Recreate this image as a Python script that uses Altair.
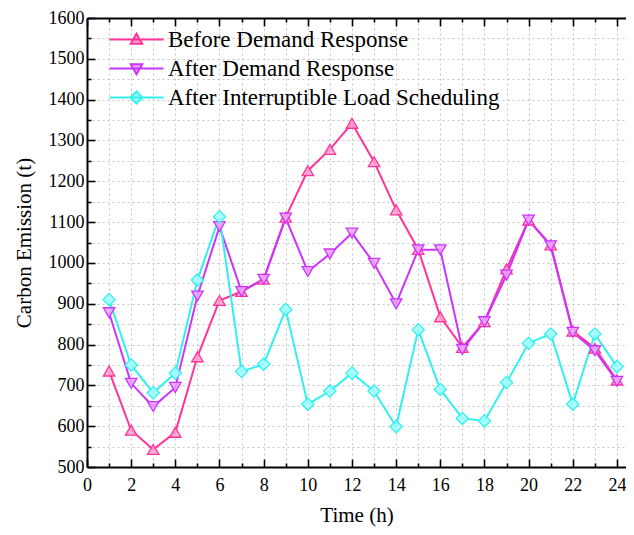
import altair as alt
import pandas as pd

# ---------------- data ----------------
hours = list(range(1, 25))
series_names = [
    "Before Demand Response",
    "After Demand Response",
    "After Interruptible Load Scheduling",
]
before_dr = [735, 590, 543, 585, 770, 908, 930, 960, 1112, 1226, 1278, 1342,
             1248, 1130, 1033, 868, 793, 856, 985, 1105, 1044, 833, 791, 713]
after_dr = [878, 705, 648, 695, 919, 1089, 930, 960, 1110, 979, 1022, 1073,
            999, 900, 1032, 1032, 788, 856, 970, 1105, 1042, 830, 785, 710]
after_ils = [910, 750, 682, 730, 958, 1113, 734, 752, 886, 654, 686, 730,
             686, 599, 836, 690, 619, 613, 707, 803, 826, 654, 826, 746]

x_major = list(range(0, 25, 2))
x_minor = list(range(1, 25, 2))
x_all = list(range(0, 25))
y_major = list(range(500, 1601, 100))
y_minor = list(range(550, 1600, 100))
y_all = list(range(500, 1601, 50))

# ---------------- styling ----------------
line_colors = ["#FF3399", "#CC33FF", "#33F0F0"]
fill_colors = ["#FFA3D1", "#E9A3FF", "#A3FFFF"]
marker_shapes = ["triangle-up", "triangle-down", "diamond"]
legend_paths = [
    "M-4.5,0L4.5,0M0,-0.95L0.95,0.7L-0.95,0.7Z",
    "M-4.5,0L4.5,0M0,0.95L0.95,-0.7L-0.95,-0.7Z",
    "M-4.5,0L4.5,0M0,-1L1,0L0,1L-1,0Z",
]

rows = []
for name, vals in zip(series_names, [before_dr, after_dr, after_ils]):
    for h, v in zip(hours, vals):
        rows.append({"hour": h, "emission": v, "series": name})
df = pd.DataFrame(rows)

W, H = 539, 449
FONT = "Liberation Serif"

xs = alt.Scale(domain=[0, 24.41], nice=False, zero=False)
ys = alt.Scale(domain=[500, 1600], nice=False, zero=False)
stroke_scale = alt.Scale(domain=series_names, range=line_colors)
fill_scale = alt.Scale(domain=series_names, range=fill_colors)
shape_scale = alt.Scale(domain=series_names, range=legend_paths)

# label / grid axes
x_axis_main = alt.Axis(
    orient="bottom", values=x_all,
    labelExpr="datum.value % 2 == 0 ? datum.label : ''",
    grid=True, gridColor="#c4c4c4", gridDash=[2, 3], gridWidth=1,
    ticks=False, tickSize=0, domain=False,
    labelFont=FONT, labelFontSize=18, labelColor="black", labelPadding=9,
    labelFlush=False, labelOverlap=False,
    title="Time (h)", titleFont=FONT, titleFontSize=21, titleFontWeight="normal",
    titleColor="black", titlePadding=10,
)
y_axis_main = alt.Axis(
    orient="left", values=y_all, format="d",
    labelExpr="datum.value % 100 == 0 ? datum.label : ''",
    grid=True, gridColor="#c4c4c4", gridDash=[2, 3], gridWidth=1,
    ticks=False, tickSize=0, domain=False,
    labelFont=FONT, labelFontSize=18, labelColor="black", labelPadding=3,
    labelFlush=False, labelOverlap=False,
    title="Carbon Emission (t)", titleFont=FONT, titleFontSize=21,
    titleFontWeight="normal", titleColor="black", titlePadding=14,
)


def frame_axis(orient, offset, values, size, with_domain):
    kw = dict(
        orient=orient, offset=offset, values=values, labels=False, grid=False,
        ticks=True, tickSize=size, tickColor="black", tickWidth=1.6,
        title=None, domain=with_domain,
    )
    if with_domain:
        kw.update(domainColor="black", domainWidth=2)
    return alt.Axis(**kw)


legend = alt.Legend(
    title=None, orient="none", legendX=38, legendY=10,
    labelFont=FONT, labelFontSize=23, labelColor="black", labelLimit=500,
    symbolSize=144, symbolStrokeWidth=2, symbolOpacity=1,
    labelOffset=20, rowPadding=5, padding=0,
)

base = alt.Chart(df)

legend_layer = base.mark_point(opacity=0, filled=True).encode(
    x=alt.X("hour:Q", scale=xs, axis=frame_axis("bottom", -H, x_minor, 4, False)),
    y=alt.Y("emission:Q", scale=ys, axis=None),
    stroke=alt.Stroke("series:N", scale=stroke_scale, legend=legend),
    fill=alt.Fill("series:N", scale=fill_scale, legend=legend),
    shape=alt.Shape("series:N", scale=shape_scale, legend=legend),
)

lines = base.mark_line(strokeWidth=2).encode(
    x=alt.X("hour:Q", scale=xs, axis=x_axis_main),
    y=alt.Y("emission:Q", scale=ys, axis=y_axis_main),
    stroke=alt.Stroke("series:N", scale=stroke_scale, legend=None),
)


def points(idx, xaxis, yaxis):
    return base.transform_filter(
        alt.datum.series == series_names[idx]
    ).mark_point(
        shape=marker_shapes[idx], size=130 if idx < 2 else 150,
        strokeWidth=1.3, fillOpacity=0.85, opacity=1,
    ).encode(
        x=alt.X("hour:Q", scale=xs, axis=xaxis),
        y=alt.Y("emission:Q", scale=ys, axis=yaxis),
        stroke=alt.Stroke("series:N", scale=stroke_scale, legend=None),
        fill=alt.Fill("series:N", scale=fill_scale, legend=None),
    )


pts_pink = points(0, frame_axis("top", -H, x_major, 8, True),
                  frame_axis("right", -W, y_major, 8, True))
pts_purple = points(1, frame_axis("top", -H, x_minor, 4, False),
                    frame_axis("right", -W, y_minor, 4, False))
pts_cyan = points(2, frame_axis("bottom", -H, x_major, 8, True), None)

chart = alt.layer(
    legend_layer, lines, pts_pink, pts_purple, pts_cyan
).resolve_axis(
    x="independent", y="independent"
).resolve_legend(
    stroke="independent", fill="independent", shape="independent"
).properties(
    width=W, height=H,
    autosize=alt.AutoSizeParams(type="none"),
    padding={"left": 79, "top": 10, "right": 0, "bottom": 60},
    background="white",
).configure_view(stroke=None)

chart.save("out.html", embed_options={"renderer": "svg", "actions": False})
